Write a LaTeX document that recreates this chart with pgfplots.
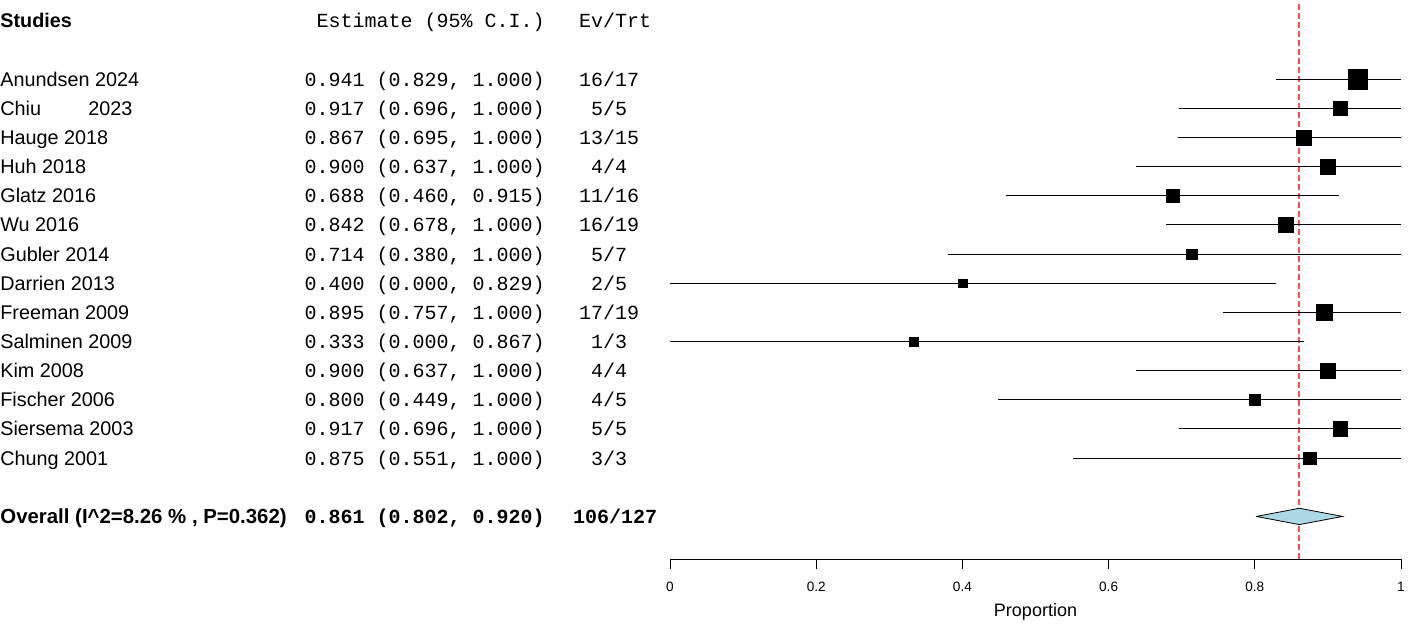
\documentclass[border=0pt]{standalone}
\usepackage{pgfplots}
\usepackage{pgfplotstable}
\pgfplotsset{compat=1.18}
\usepackage{fontspec}
\setmainfont{Liberation Sans}
\newfontfamily\mono{Liberation Mono}
\definecolor{diamondfill}{HTML}{ADD8E6}

% estimate, row, lower, upper, mark size (pt)
\pgfplotstableread{
x     y  lo    hi    s
0.941 14 0.829 1.000 4.9
0.917 13 0.696 1.000 3.65
0.867 12 0.695 1.000 3.65
0.900 11 0.637 1.000 3.65
0.688 10 0.460 0.915 3.15
0.842 9  0.678 1.000 3.65
0.714 8  0.380 1.000 2.65
0.400 7  0.000 0.829 2.15
0.895 6  0.757 1.000 4.15
0.333 5  0.000 0.867 2.15
0.900 4  0.637 1.000 3.65
0.800 3  0.449 1.000 2.65
0.917 2  0.696 1.000 3.65
0.875 1  0.551 1.000 3.15
}\studies

\begin{document}
\begin{tikzpicture}
\begin{axis}[
    scale only axis,
    width=365.5pt, height=279pt,
    xmin=0, xmax=1,
    ymin=-2.46, ymax=16.68,
    axis x line=bottom,
    axis y line=none,
    axis line style={-, line width=0.5pt},
    xtick={0,0.2,0.4,0.6,0.8,1},
    xticklabels={0,0.2,0.4,0.6,0.8,1},
    tick align=outside,
    major tick length=5pt,
    xtick style={line width=0.5pt, black},
    /pgf/number format/assume math mode=true,
    xticklabel style={font=\fontsize{6.8}{7}\selectfont, yshift=-3pt},
    xlabel={Proportion},
    xlabel style={font=\fontsize{9}{10}\selectfont, at={(axis description cs:0.5,0)}, anchor=base, yshift=-28.5pt},
    clip=false,
]
% picture extent
\path (axis cs:-0.9166,-5.003) rectangle (axis cs:1.0164,16.68);

% reference line at the pooled estimate
\addplot[color=red!70!white, line width=1pt, dash pattern=on 3pt off 1.5pt, mark=none] coordinates {(0.861,-2.46) (0.861,16.68)};

% confidence intervals
\addplot[only marks, mark=none,
    error bars/.cd, x dir=both, x explicit, error mark=none,
    error bar style={black, line width=0.5pt}]
    table[x=x, y=y,
          x error plus expr=\thisrow{hi}-\thisrow{x},
          x error minus expr=\thisrow{x}-\thisrow{lo}] {\studies};

% study estimates
\addplot[scatter, only marks, mark=square*,
    scatter/use mapped color={draw=black, fill=black},
    mark options={line width=0.2pt},
    visualization depends on={\thisrow{s} \as \msize},
    scatter/@pre marker code/.append style={/tikz/mark size=\msize}]
    table[x=x, y=y] {\studies};

% pooled diamond
\addplot[fill=diamondfill, draw=black, line width=0.4pt] coordinates {
    (0.802,-1) (0.861,-0.72) (0.920,-1) (0.861,-1.28) (0.802,-1)};

% text columns
\begin{scope}[every node/.style={inner sep=0pt, font=\fontsize{9.9}{11}\selectfont, yshift=-3.5pt}]
\node[anchor=base west] at (axis cs:-0.9166,16) {\textbf{Studies}};
\node[anchor=base east, font=\fontsize{10}{11}\mono] at (axis cs:-0.1710,16) {Estimate (95\% C.I.)};
\node[anchor=base, font=\fontsize{10}{11}\mono] at (axis cs:-0.0752,16) {Ev/Trt};

\node[anchor=base west] at (axis cs:-0.9166,14) {Anundsen 2024};
\node[anchor=base west] at (axis cs:-0.9166,13) {\rlap{Chiu}\hspace{44pt}2023};
\node[anchor=base west] at (axis cs:-0.9166,12) {Hauge 2018};
\node[anchor=base west] at (axis cs:-0.9166,11) {Huh 2018};
\node[anchor=base west] at (axis cs:-0.9166,10) {Glatz 2016};
\node[anchor=base west] at (axis cs:-0.9166,9) {Wu 2016};
\node[anchor=base west] at (axis cs:-0.9166,8) {Gubler 2014};
\node[anchor=base west] at (axis cs:-0.9166,7) {Darrien 2013};
\node[anchor=base west] at (axis cs:-0.9166,6) {Freeman 2009};
\node[anchor=base west] at (axis cs:-0.9166,5) {Salminen 2009};
\node[anchor=base west] at (axis cs:-0.9166,4) {Kim 2008};
\node[anchor=base west] at (axis cs:-0.9166,3) {Fischer 2006};
\node[anchor=base west] at (axis cs:-0.9166,2) {Siersema 2003};
\node[anchor=base west] at (axis cs:-0.9166,1) {Chung 2001};
\node[anchor=base west] at (axis cs:-0.9166,-1) {\fontsize{10.2}{11}\selectfont\textbf{Overall (I\textasciicircum 2=8.26 \% , P=0.362)}};

\begin{scope}[every node/.append style={font=\fontsize{10}{11}\mono}]
\node[anchor=base east] at (axis cs:-0.1710,14) {0.941 (0.829, 1.000)};
\node[anchor=base east] at (axis cs:-0.1710,13) {0.917 (0.696, 1.000)};
\node[anchor=base east] at (axis cs:-0.1710,12) {0.867 (0.695, 1.000)};
\node[anchor=base east] at (axis cs:-0.1710,11) {0.900 (0.637, 1.000)};
\node[anchor=base east] at (axis cs:-0.1710,10) {0.688 (0.460, 0.915)};
\node[anchor=base east] at (axis cs:-0.1710,9) {0.842 (0.678, 1.000)};
\node[anchor=base east] at (axis cs:-0.1710,8) {0.714 (0.380, 1.000)};
\node[anchor=base east] at (axis cs:-0.1710,7) {0.400 (0.000, 0.829)};
\node[anchor=base east] at (axis cs:-0.1710,6) {0.895 (0.757, 1.000)};
\node[anchor=base east] at (axis cs:-0.1710,5) {0.333 (0.000, 0.867)};
\node[anchor=base east] at (axis cs:-0.1710,4) {0.900 (0.637, 1.000)};
\node[anchor=base east] at (axis cs:-0.1710,3) {0.800 (0.449, 1.000)};
\node[anchor=base east] at (axis cs:-0.1710,2) {0.917 (0.696, 1.000)};
\node[anchor=base east] at (axis cs:-0.1710,1) {0.875 (0.551, 1.000)};
\node[anchor=base east] at (axis cs:-0.1710,-1) {\bfseries 0.861 (0.802, 0.920)};

\node[anchor=base] at (axis cs:-0.0834,14) {16/17};
\node[anchor=base] at (axis cs:-0.0834,13) {5/5};
\node[anchor=base] at (axis cs:-0.0834,12) {13/15};
\node[anchor=base] at (axis cs:-0.0834,11) {4/4};
\node[anchor=base] at (axis cs:-0.0834,10) {11/16};
\node[anchor=base] at (axis cs:-0.0834,9) {16/19};
\node[anchor=base] at (axis cs:-0.0834,8) {5/7};
\node[anchor=base] at (axis cs:-0.0834,7) {2/5};
\node[anchor=base] at (axis cs:-0.0834,6) {17/19};
\node[anchor=base] at (axis cs:-0.0834,5) {1/3};
\node[anchor=base] at (axis cs:-0.0834,4) {4/4};
\node[anchor=base] at (axis cs:-0.0834,3) {4/5};
\node[anchor=base] at (axis cs:-0.0834,2) {5/5};
\node[anchor=base] at (axis cs:-0.0834,1) {3/3};
\node[anchor=base] at (axis cs:-0.0752,-1) {\bfseries 106/127};
\end{scope}
\end{scope}
\end{axis}
\end{tikzpicture}
\end{document}
